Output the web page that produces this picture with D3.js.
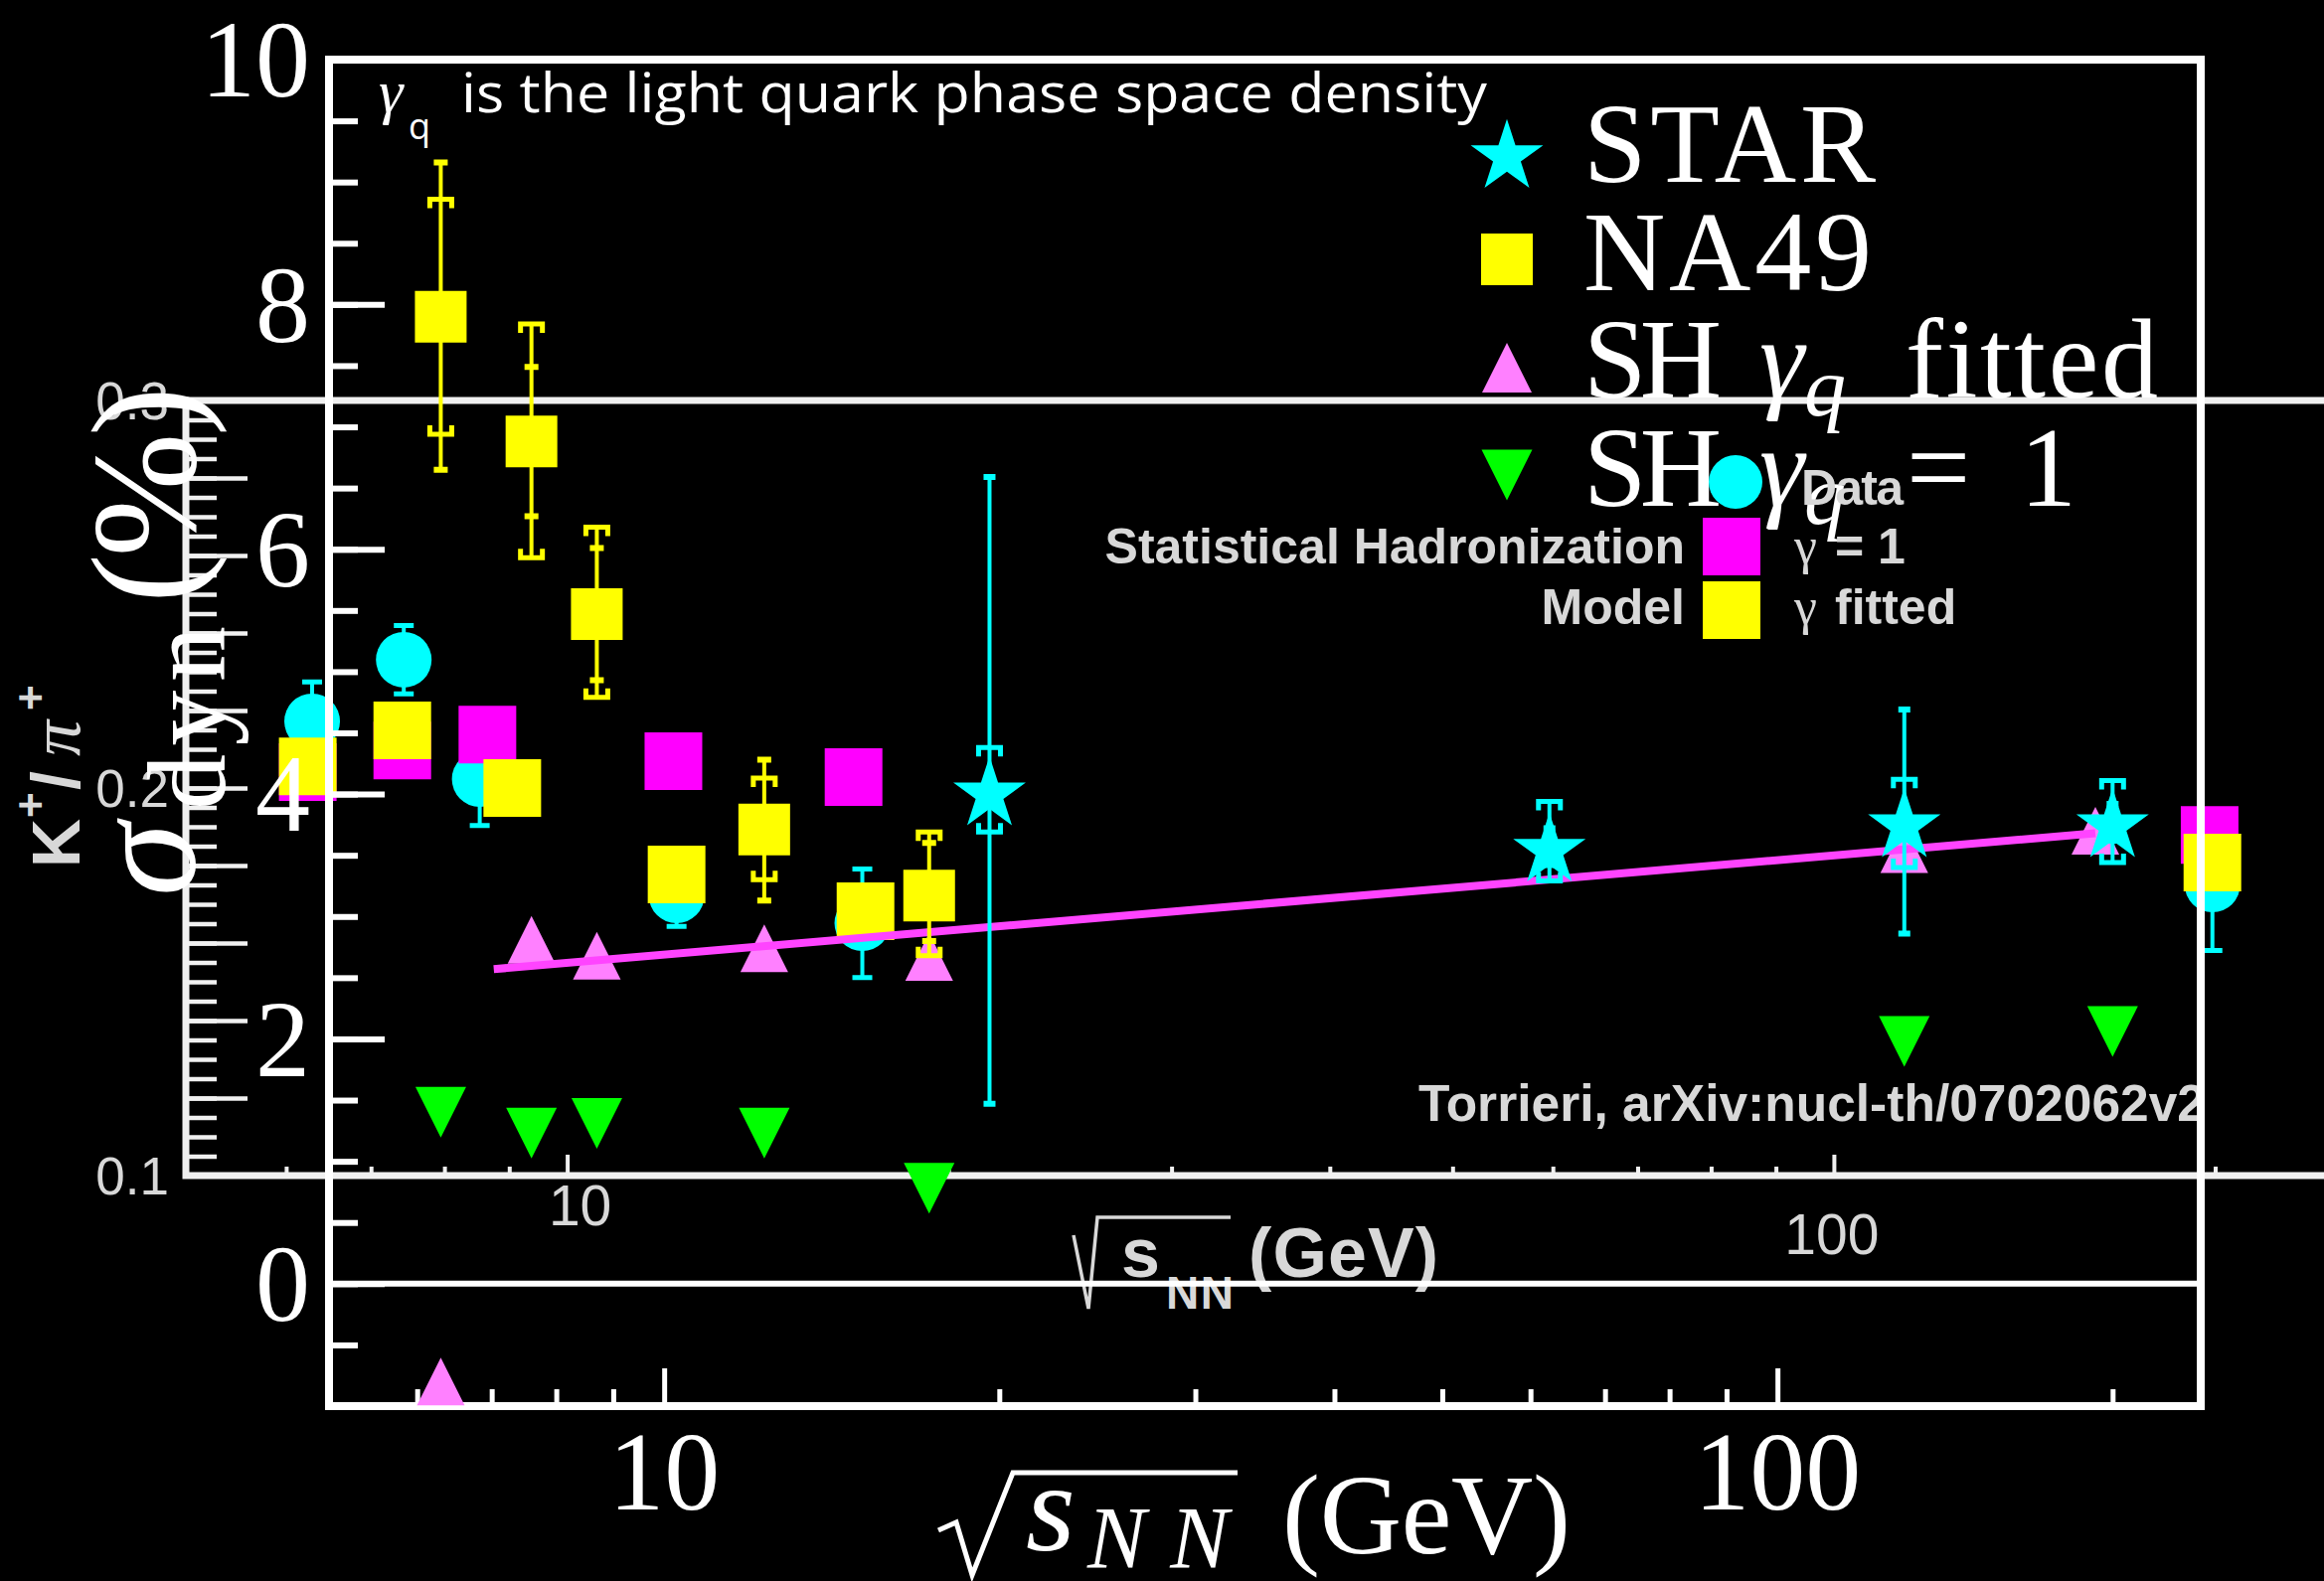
<!DOCTYPE html>
<html><head><meta charset="utf-8">
<script src="https://cdn.jsdelivr.net/npm/d3@7"></script>
<style>html,body{margin:0;padding:0;background:#000;overflow:hidden}</style>
</head><body>
<script>
// ================= DATA: foreground plot, sigma_dyn (%) =================
const sqrtsNA49   = [6.3, 7.6, 8.7, 12.3, 17.3];
const sigmaNA49   = [7.90, 6.88, 5.47, 3.71, 3.17];
const statHiNA49  = [9.16, 7.49, 6.01, 4.28, 3.60];
const statLoNA49  = [6.65, 6.27, 4.93, 3.13, 2.80];
const sysHiNA49   = [8.86, 7.84, 6.18, 4.13, 3.69];
const sysLoNA49   = [6.94, 5.93, 4.79, 3.30, 2.68];

const sqrtsSTAR   = [19.6, 62.4, 130, 200];
const sigmaSTAR   = [4.03, 3.57, 3.77, 3.77];
const statHiSTAR  = [6.59, 3.72, 4.69, 3.92];
const statLoSTAR  = [1.47, 3.42, 2.86, 3.62];
const sysHiSTAR   = [4.38, 3.94, 4.12, 4.11];
const sysLoSTAR   = [3.69, 3.29, 3.40, 3.44];

const sqrtsSHfit  = [6.3, 7.6, 8.7, 12.3, 17.3, 130, 193];
const sigmaSHfit  = [-0.80, 2.81, 2.68, 2.74, 2.67, 3.55, 3.70];
const sqrtsSH1    = [6.3, 7.6, 8.7, 12.3, 17.3, 130, 200];
const sigmaSH1    = [1.40, 1.23, 1.31, 1.23, 0.78, 1.98, 2.06];
const sqrtsTrend  = [7.03, 193];
const sigmaTrend  = [2.57, 3.68];

const sigmaTicks      = [0, 2, 4, 6, 8, 10];
const sigmaTickLabels = ["0", "2", "4", "6", "8", "10"];
const energyMajor     = [10, 100];
const energyTickLabels= ["10", "100"];
const energyMinor     = [6, 7, 8, 9, 20, 30, 40, 50, 60, 70, 80, 90, 200];
const legendA = ["STAR", "NA49", "SH γq fitted", "SH γq = 1"];

// ================= DATA: background plot, K+/pi+ =================
const sqrtsKData  = [6.29, 7.43, 8.53, 12.2, 17.1, 199];
const kpiData     = [0.2172, 0.2331, 0.2023, 0.1723, 0.1651, 0.1751];
const kpiDataErr  = [0.0102, 0.0088, 0.0120, 0.0080, 0.0140, 0.0170];
const sqrtsKG1    = [6.24, 7.41, 8.65, 12.13, 16.83, 198];
const kpiG1       = [0.2041, 0.2097, 0.2138, 0.2069, 0.2028, 0.1879];
const sqrtsKFit   = [6.24, 7.41, 9.05, 12.2, 17.2, 199];
const kpiFit      = [0.2056, 0.2149, 0.2000, 0.1777, 0.1682, 0.1808];
const kpiTickLabels = ["0.1", "0.2", "0.3"];
const kpiTicks      = [0.1, 0.2, 0.3];

// ================= SETUP =================
const W = 2338, H = 1591;
const SERIF = "'Liberation Serif','DejaVu Serif',serif";
const SANS  = "'Liberation Sans',Arial,sans-serif";
const svg = d3.select("body").append("svg").attr("width", W).attr("height", H);
svg.append("rect").attr("width", W).attr("height", H).attr("fill", "#000");

const triUp   = {draw(c, s){const h = Math.sqrt(s)/2; c.moveTo(0,-h); c.lineTo(h,h); c.lineTo(-h,h); c.closePath();}};
const triDown = {draw(c, s){const h = Math.sqrt(s)/2; c.moveTo(0,h); c.lineTo(h,-h); c.lineTo(-h,-h); c.closePath();}};

function tickAxis(parent, axisFn, scale, values, size, color, width, transform){
  parent.append("g").attr("transform", transform)
    .call(axisFn(scale).tickValues(values).tickSize(size).tickFormat(""))
    .call(a => { a.select(".domain").remove(); a.selectAll("text").remove();
                 a.selectAll("line").attr("stroke", color).attr("stroke-width", width); });
}

// ================= BACKGROUND PLOT (K+/pi+) =================
const xB = d3.scaleLog().domain([5, 250]).range([187, 2352]);
const yB = d3.scaleLinear().domain([0.1, 0.3]).range([1183, 403]);
const gB = svg.append("g");
const BCOL = "#f0f0f0", BTXT = "#d8d8d8";

const bMinorY = d3.range(0, 41).map(i => +(0.1 + i*0.005).toFixed(3));
const bMajorY = d3.range(0, 11).map(i => +(0.1 + i*0.02).toFixed(2));
tickAxis(gB, d3.axisRight, yB, bMinorY, 31, BCOL, 4.5, `translate(${xB(5)},0)`);
tickAxis(gB, d3.axisRight, yB, bMajorY, 62, BCOL, 4.5, `translate(${xB(5)},0)`);
tickAxis(gB, d3.axisTop, xB, energyMinor, 9, BCOL, 4, `translate(0,${yB(0.1)})`);
tickAxis(gB, d3.axisTop, xB, energyMajor, 21, BCOL, 4, `translate(0,${yB(0.1)})`);
gB.append("path")
  .attr("d", `M${xB(250)},${yB(0.3)}H${xB(5)}V${yB(0.1)}H${xB(250)}`)
  .attr("fill", "none").attr("stroke", BCOL).attr("stroke-width", 7);

gB.selectAll("text.ky").data(kpiTicks).join("text")
  .attr("x", xB(5) - 17).attr("y", d => yB(d)).attr("dy", "0.36em")
  .attr("text-anchor", "end").attr("fill", BTXT)
  .style("font-family", SANS).style("font-size", "53px")
  .text((d, i) => kpiTickLabels[i]);
gB.selectAll("text.kx").data(energyMajor).join("text")
  .attr("x", (d, i) => xB(d) + (i === 0 ? 13 : -2))
  .attr("y", (d, i) => yB(0.1) + (i === 0 ? 50 : 79))
  .attr("text-anchor", "middle").attr("fill", BTXT)
  .style("font-family", SANS).style("font-size", "57px")
  .text((d, i) => energyTickLabels[i]);

// background x label
gB.append("path").attr("d", "M1080,1243L1095,1317L1104,1225H1238")
  .attr("fill", "none").attr("stroke", BTXT).attr("stroke-width", 3.5);
const bxl = gB.append("text").attr("fill", BTXT).style("font-family", SANS).style("font-weight", "bold");
bxl.append("tspan").attr("x", 1128).attr("y", 1285).style("font-size", "70px").text("s");
bxl.append("tspan").attr("x", 1173).attr("y", 1317).style("font-size", "46px").attr("textLength", 68).text("NN");
bxl.append("tspan").attr("x", 1256).attr("y", 1285).style("font-size", "70px").attr("textLength", 191).text("(GeV)");

// background y label K+/pi+
const kyl = gB.append("text").attr("transform", "translate(80,873) rotate(-90)").attr("fill", BTXT);
kyl.append("tspan").attr("x", 0).attr("y", 0).style("font-family", SANS).style("font-weight", "bold").style("font-size", "68px").text("K");
kyl.append("tspan").attr("x", 50).attr("y", -34).style("font-family", SANS).style("font-weight", "bold").style("font-size", "44px").text("+");
kyl.append("tspan").attr("x", 78).attr("y", 0).style("font-family", SANS).style("font-weight", "bold").style("font-size", "68px").text("/");
kyl.append("tspan").attr("x", 112).attr("y", 0).style("font-family", SERIF).style("font-style", "italic").style("font-size", "72px").text("π");
kyl.append("tspan").attr("x", 158).attr("y", -34).style("font-family", SANS).style("font-weight", "bold").style("font-size", "44px").text("+");

// background data: cyan data with error bars
const kData = sqrtsKData.map((e, i) => ({e, v: kpiData[i], err: kpiDataErr[i]}));
gB.selectAll("line.kerr").data(kData).join("line")
  .attr("x1", d => xB(d.e)).attr("x2", d => xB(d.e))
  .attr("y1", d => yB(d.v + d.err)).attr("y2", d => yB(d.v - d.err))
  .attr("stroke", "#00ffff").attr("stroke-width", 4);
gB.selectAll("path.kcap").data(kData).join("path")
  .attr("d", d => `M${xB(d.e)-10},${yB(d.v + d.err)}H${xB(d.e)+10}M${xB(d.e)-10},${yB(d.v - d.err)}H${xB(d.e)+10}`)
  .attr("stroke", "#00ffff").attr("stroke-width", 5);
gB.selectAll("path.kpt").data(kData).join("path")
  .attr("transform", d => `translate(${xB(d.e)},${yB(d.v)})`)
  .attr("d", d3.symbol(d3.symbolCircle, Math.PI*28*28)).attr("fill", "#00ffff");
gB.selectAll("path.kg1").data(sqrtsKG1.map((e, i) => ({e, v: kpiG1[i]}))).join("path")
  .attr("transform", d => `translate(${xB(d.e)},${yB(d.v)})`)
  .attr("d", d3.symbol(d3.symbolSquare, 58*58)).attr("fill", "#ff00ff");
gB.selectAll("path.kfit").data(sqrtsKFit.map((e, i) => ({e, v: kpiFit[i]}))).join("path")
  .attr("transform", d => `translate(${xB(d.e)},${yB(d.v)})`)
  .attr("d", d3.symbol(d3.symbolSquare, 58*58)).attr("fill", "#ffff00");

// citation
svg.append("clipPath").attr("id", "citeclip").append("rect").attr("x", 1400).attr("y", 1050).attr("width", 812).attr("height", 120);
gB.append("text").attr("clip-path", "url(#citeclip)")
  .attr("x", 1427).attr("y", 1128).attr("textLength", 792).attr("lengthAdjust", "spacingAndGlyphs")
  .attr("fill", BTXT).style("font-family", SANS).style("font-weight", "bold").style("font-size", "52px")
  .text("Torrieri, arXiv:nucl-th/0702062v2");

// ================= FOREGROUND PLOT (sigma_dyn) =================
const xA = d3.scaleLog().domain([5, 240]).range([331, 2214]);
const yA = d3.scaleLinear().domain([-1, 10]).range([1415, 60]);
const gA = svg.append("g");
const ACOL = "#ffffff";

const aMinorY = d3.range(-2, 21).map(i => i*0.5);
tickAxis(gA, d3.axisRight, yA, aMinorY, 29, ACOL, 6, `translate(${xA(5)},0)`);
tickAxis(gA, d3.axisRight, yA, sigmaTicks, 56, ACOL, 6, `translate(${xA(5)},0)`);
tickAxis(gA, d3.axisTop, xA, energyMinor, 17, ACOL, 5, `translate(0,${yA(-1)})`);
tickAxis(gA, d3.axisTop, xA, energyMajor, 38, ACOL, 5, `translate(0,${yA(-1)})`);
gA.append("line").attr("x1", xA(5)).attr("x2", xA(240)).attr("y1", yA(0)).attr("y2", yA(0))
  .attr("stroke", ACOL).attr("stroke-width", 6);
gA.append("rect").attr("x", xA(5)).attr("y", yA(10)).attr("width", xA(240) - xA(5)).attr("height", yA(-1) - yA(10))
  .attr("fill", "none").attr("stroke", ACOL).attr("stroke-width", 8);

gA.selectAll("text.sy").data(sigmaTicks).join("text")
  .attr("x", 312).attr("y", d => yA(d)).attr("dy", "0.34em").attr("text-anchor", "end")
  .attr("fill", ACOL).style("font-family", SERIF).style("font-size", "110px")
  .text((d, i) => sigmaTickLabels[i]);
gA.selectAll("text.sx").data(energyMajor).join("text")
  .attr("x", d => xA(d)).attr("y", yA(-1) + 104).attr("text-anchor", "middle")
  .attr("fill", ACOL).style("font-family", SERIF).style("font-size", "112px")
  .text((d, i) => energyTickLabels[i]);

// foreground y label
const syl = gA.append("g").attr("transform", "translate(196,902) rotate(-90)").attr("fill", ACOL).style("font-family", SERIF);
syl.append("text").attr("x", 0).attr("y", 0).style("font-style", "italic").style("font-size", "150px").text("σ");
syl.append("text").attr("x", 87).attr("y", 30).style("font-size", "112px").attr("textLength", 185).text("dyn");
syl.append("text").attr("x", 295).attr("y", 0).style("font-size", "150px").attr("textLength", 218).text("(%)");

// foreground x label
gA.append("path").attr("d", "M944,1540L962,1532L978,1585L1019,1482H1245")
  .attr("fill", "none").attr("stroke", ACOL).attr("stroke-width", 5);
const sxl = gA.append("text").attr("fill", ACOL).style("font-family", SERIF);
sxl.append("tspan").attr("x", 1032).attr("y", 1560).style("font-style", "italic").style("font-size", "128px").text("s");
sxl.append("tspan").attr("x", 1094).attr("y", 1577).style("font-style", "italic").style("font-size", "88px").attr("textLength", 142).text("NN");
sxl.append("tspan").attr("x", 1290).attr("y", 1563).style("font-size", "114px").attr("textLength", 290).text("(GeV)");

// model points
gA.selectAll("path.shfit").data(sqrtsSHfit.map((e, i) => ({e, v: sigmaSHfit[i]}))).join("path")
  .attr("transform", d => `translate(${xA(d.e)},${yA(d.v)})`)
  .attr("d", d3.symbol(triUp, 48*48)).attr("fill", "#ff80ff");
gA.selectAll("path.sh1").data(sqrtsSH1.map((e, i) => ({e, v: sigmaSH1[i]}))).join("path")
  .attr("transform", d => `translate(${xA(d.e)},${yA(d.v)})`)
  .attr("d", d3.symbol(triDown, 51*51)).attr("fill", "#00ff00");
gA.append("path").datum(sqrtsTrend.map((e, i) => [e, sigmaTrend[i]]))
  .attr("d", d3.line().x(d => xA(d[0])).y(d => yA(d[1])))
  .attr("stroke", "#ff44ff").attr("stroke-width", 8).attr("fill", "none");

// error bar helpers
function errorBars(g, rows, color, capW, brW){
  g.selectAll(null).data(rows).join("line")
    .attr("x1", d => xA(d.e)).attr("x2", d => xA(d.e))
    .attr("y1", d => yA(Math.max(d.sh, d.th))).attr("y2", d => yA(Math.min(d.sl, d.tl)))
    .attr("stroke", color).attr("stroke-width", 4);
  g.selectAll(null).data(rows).join("path")
    .attr("d", d => `M${xA(d.e)-capW/2},${yA(d.th)}H${xA(d.e)+capW/2}M${xA(d.e)-capW/2},${yA(d.tl)}H${xA(d.e)+capW/2}`)
    .attr("stroke", color).attr("stroke-width", 6).attr("fill", "none");
  g.selectAll(null).data(rows).join("path")
    .attr("d", d => `M${xA(d.e)-brW/2},${yA(d.sh)+9}V${yA(d.sh)}H${xA(d.e)+brW/2}V${yA(d.sh)+9}` +
                    `M${xA(d.e)-brW/2},${yA(d.sl)-9}V${yA(d.sl)}H${xA(d.e)+brW/2}V${yA(d.sl)-9}`)
    .attr("stroke", color).attr("stroke-width", 5).attr("fill", "none");
}
const naRows = sqrtsNA49.map((e, i) => ({e, v: sigmaNA49[i], th: statHiNA49[i], tl: statLoNA49[i], sh: sysHiNA49[i], sl: sysLoNA49[i]}));
const gNA = gA.append("g");
errorBars(gNA, naRows, "#ffff00", 14, 22);
gNA.selectAll("path.na").data(naRows).join("path")
  .attr("transform", d => `translate(${xA(d.e)},${yA(d.v)})`)
  .attr("d", d3.symbol(d3.symbolSquare, 52*52)).attr("fill", "#ffff00");

const starRows = sqrtsSTAR.map((e, i) => ({e, v: sigmaSTAR[i], th: statHiSTAR[i], tl: statLoSTAR[i], sh: sysHiSTAR[i], sl: sysLoSTAR[i]}));
const gST = gA.append("g");
errorBars(gST, starRows, "#00ffff", 12, 22);
gST.selectAll("path.st").data(starRows).join("path")
  .attr("transform", d => `translate(${xA(d.e)},${yA(d.v) + 4})`)
  .attr("d", d3.symbol(d3.symbolStar, 1650)).attr("fill", "#00ffff");

// foreground legend
const legX = 1516, legTextX = 1593;
const legRowsY = [152, 261, 370, 478];
const legBase = [183, 292, 400, 509];
const legSym = [d3.symbol(d3.symbolStar, 1650), d3.symbol(d3.symbolSquare, 52*52), d3.symbol(triUp, 50*50), d3.symbol(triDown, 51*51)];
const legCol = ["#00ffff", "#ffff00", "#ff80ff", "#00ff00"];
gA.selectAll("path.leg").data(legendA).join("path")
  .attr("transform", (d, i) => `translate(${legX},${legRowsY[i] + (i === 0 ? 6 : 0)})`)
  .attr("d", (d, i) => legSym[i]()).attr("fill", (d, i) => legCol[i]);
const lt = gA.append("g").attr("fill", ACOL).style("font-family", SERIF).style("font-size", "114px");
lt.append("text").attr("x", legTextX).attr("y", legBase[0]).attr("textLength", 294).text(legendA[0]);
lt.append("text").attr("x", legTextX).attr("y", legBase[1]).attr("textLength", 290).text(legendA[1]);
[2, 3].forEach(i => {
  const t = lt.append("text").attr("y", legBase[i]);
  t.append("tspan").attr("x", legTextX).attr("y", legBase[i]).attr("textLength", 139).text("SH");
  t.append("tspan").attr("x", 1770).attr("y", legBase[i]).style("font-style", "italic").text("γ");
  t.append("tspan").attr("x", 1815).attr("y", legBase[i] + 18).style("font-style", "italic").style("font-size", "84px").text("q");
  if (i === 2) {
    t.append("tspan").attr("x", 1917).attr("y", legBase[i]).attr("textLength", 254).text("fitted");
  } else {
    t.append("tspan").attr("x", 1918).attr("y", legBase[i]).text("=");
    t.append("tspan").attr("x", 2032).attr("y", legBase[i]).text("1");
  }
});

// annotation
const ann = gA.append("text").attr("fill", ACOL);
ann.append("tspan").attr("x", 381).attr("y", 113).style("font-family", SERIF).style("font-style", "italic").style("font-size", "62px").text("γ");
ann.append("tspan").attr("x", 411).attr("y", 140).style("font-family", "'Open Sans',sans-serif").style("font-size", "36px").text("q");
ann.append("tspan").attr("x", 464).attr("y", 113).style("font-family", "'Open Sans',sans-serif").style("font-size", "55px")
  .attr("textLength", 1032).attr("lengthAdjust", "spacingAndGlyphs").text("is the light quark phase space density");

// ================= BACKGROUND LEGEND (drawn over) =================
const gBL = svg.append("g");
gBL.append("path").attr("transform", "translate(1746,485)").attr("d", d3.symbol(d3.symbolCircle, Math.PI*27*27)()).attr("fill", "#00ffff");
gBL.append("path").attr("transform", "translate(1742,550)").attr("d", d3.symbol(d3.symbolSquare, 58*58)()).attr("fill", "#ff00ff");
gBL.append("path").attr("transform", "translate(1742,614)").attr("d", d3.symbol(d3.symbolSquare, 58*58)()).attr("fill", "#ffff00");
const blt = gBL.append("g").attr("fill", BTXT).style("font-family", SANS).style("font-weight", "bold").style("font-size", "50px");
blt.append("text").attr("x", 1812).attr("y", 508).attr("textLength", 103).text("Data");
blt.append("text").attr("x", 1695).attr("y", 567).attr("text-anchor", "end").text("Statistical Hadronization");
blt.append("text").attr("x", 1695).attr("y", 628).attr("text-anchor", "end").text("Model");
const g1t = blt.append("text").attr("y", 567);
g1t.append("tspan").attr("x", 1805).style("font-family", SERIF).style("font-weight", "normal").style("font-size", "52px").text("γ");
g1t.append("tspan").attr("x", 1846).text("= 1");
const gft = blt.append("text").attr("y", 628);
gft.append("tspan").attr("x", 1805).style("font-family", SERIF).style("font-weight", "normal").style("font-size", "52px").text("γ");
gft.append("tspan").attr("x", 1846).text("fitted");
</script>
</body></html>
